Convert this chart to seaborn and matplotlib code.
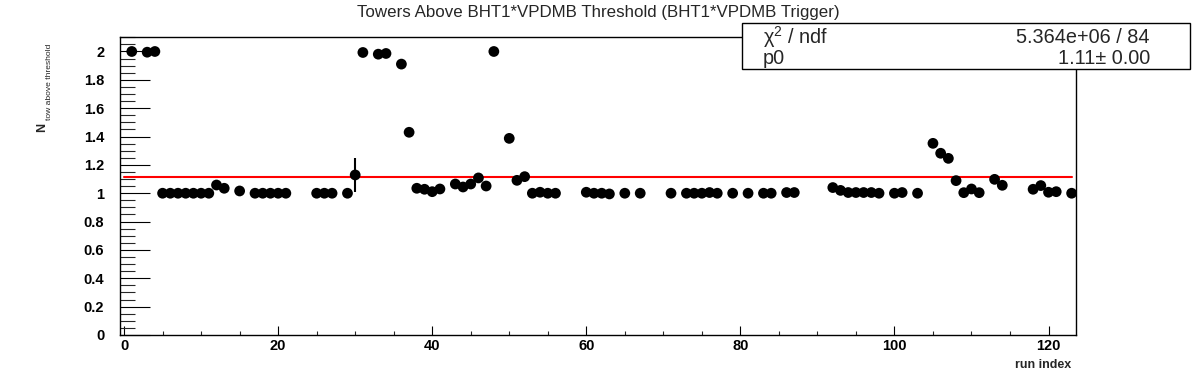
import matplotlib
matplotlib.use("Agg")
import matplotlib.pyplot as plt
import matplotlib.ticker as mticker
from matplotlib.patches import Rectangle
import numpy as np
import pandas as pd
import seaborn as sns

# ---------------- data ----------------
run_index = [1, 3, 4, 5, 6, 7, 8, 9, 10, 11, 12, 13, 15, 17, 18, 19, 20, 21,
             25, 26, 27, 29, 30, 31, 33, 34, 36, 37, 38, 39, 40, 41, 43, 44,
             45, 46, 47, 48, 50, 51, 52, 53, 54, 55, 56, 60, 61, 62, 63, 65,
             67, 71, 73, 74, 75, 76, 77, 79, 81, 83, 84, 86, 87, 92, 93, 94,
             95, 96, 97, 98, 100, 101, 103, 105, 106, 107, 108, 109, 110, 111,
             113, 114, 118, 119, 120, 121, 123]
n_tow = [2.0, 1.995, 2.0, 1.0, 1.0, 1.0, 1.0, 1.0, 1.0, 1.0, 1.058, 1.035,
         1.016, 1.0, 1.0, 1.0, 1.0, 1.0,
         1.0, 1.0, 1.0, 1.0, 1.129, 1.993, 1.981, 1.986, 1.911, 1.43, 1.035,
         1.028, 1.011, 1.030, 1.065, 1.044,
         1.065, 1.108, 1.051, 2.0, 1.387, 1.091, 1.117, 1.0, 1.007, 1.0, 1.0,
         1.007, 1.0, 1.0, 0.995, 1.0,
         1.0, 1.0, 1.0, 1.0, 1.0, 1.005, 1.0, 1.0, 1.0, 1.0, 1.0, 1.005, 1.005,
         1.04, 1.02, 1.005,
         1.005, 1.005, 1.005, 1.0, 1.0, 1.005, 1.0, 1.352, 1.282, 1.246,
         1.089, 1.004, 1.03, 1.004,
         1.098, 1.056, 1.028, 1.054, 1.007, 1.011, 1.0]
error_runs = [30]
error_sizes = [0.12]

fit_p0 = 1.113
fit_range = [0, 123]
stat_labels = ["\u03c7$^{2}$ / ndf", "p0"]
stat_values = ["5.364e+06 / 84", "1.11\u00b1 0.00"]

title = "Towers Above BHT1*VPDMB Threshold (BHT1*VPDMB Trigger)"
x_title = "run index"
x_ticks = [0, 20, 40, 60, 80, 100, 120]
y_ticks = [0, 0.2, 0.4, 0.6, 0.8, 1.0, 1.2, 1.4, 1.6, 1.8, 2.0]

# ---------------- style ----------------
sns.set_theme(style="ticks")
plt.rcParams["font.family"] = ["Liberation Sans", "DejaVu Sans"]
plt.rcParams["mathtext.fontset"] = "custom"
plt.rcParams["mathtext.rm"] = "Liberation Sans"
plt.rcParams["mathtext.it"] = "Liberation Sans"
plt.rcParams["mathtext.bf"] = "Liberation Sans:bold"
plt.rcParams["mathtext.default"] = "regular"

fig = plt.figure(figsize=(11.96, 3.72), dpi=100)
fig.patch.set_facecolor("white")
ax = fig.add_axes([0.1, 0.0995, 0.8, 0.8002])
ax.set_facecolor("white")

df = pd.DataFrame({"run": run_index, "n": n_tow})

# fit line
ax.plot(fit_range, [fit_p0, fit_p0], color="#ff0000", lw=1.5, zorder=2)

# error bars
err_y = [n_tow[run_index.index(r)] for r in error_runs]
ax.errorbar(error_runs, err_y, yerr=error_sizes, fmt="none", ecolor="black",
            elinewidth=1.5, capsize=0, zorder=3)

# points
sns.scatterplot(data=df, x="run", y="n", ax=ax, color="black", s=60,
                linewidth=0, edgecolor="none", zorder=4, legend=False)

ax.set_xlim(-0.58, 123.62)
ax.set_ylim(0, 2.1)
ax.set_xlabel("")
ax.set_ylabel("")

for s in ax.spines.values():
    s.set_color("black")
    s.set_linewidth(1.0)
    s.set_visible(True)

ax.set_xticks(x_ticks)
ax.xaxis.set_minor_locator(mticker.MultipleLocator(5))
ax.set_yticks(y_ticks)
ax.yaxis.set_minor_locator(mticker.MultipleLocator(0.05))
ax.yaxis.set_major_formatter(mticker.FuncFormatter(lambda v, p: f"{v:g}"))

ax.tick_params(axis="x", which="major", direction="in", length=6.5, width=0.8,
               pad=3, labelsize=10.5, colors="black", top=False)
ax.tick_params(axis="x", which="minor", direction="in", length=3.2, width=0.8,
               top=False)
ax.tick_params(axis="y", which="major", direction="in", length=21.5, width=0.8,
               pad=11, labelsize=10.5, colors="black", right=False)
ax.tick_params(axis="y", which="minor", direction="in", length=10.8, width=0.8,
               right=False)
for lab in ax.get_xticklabels() + ax.get_yticklabels():
    lab.set_fontweight("bold")

# titles
fig.text(0.5, 0.966, title, ha="center", va="center", fontsize=12.2)
fig.text(1071 / 1196, 1 - 365 / 372, x_title, ha="right", va="center",
         fontsize=9, fontweight="bold")
fig.text(42 / 1196, 1 - 127 / 372, "N", rotation=90, ha="center", va="center",
         fontsize=9, fontweight="bold")
fig.text(49.5 / 1196, 1 - 82 / 372, "tow above threshold", rotation=90,
         ha="center", va="center", fontsize=6.1)

# stats box
bx0, bx1 = 741.5 / 1196, 1190 / 1196
by0, by1 = 1 - 68.5 / 372, 1 - 22.5 / 372
fig.patches.append(Rectangle((bx0, by0), bx1 - bx0, by1 - by0,
                             transform=fig.transFigure, facecolor="white",
                             edgecolor="black", linewidth=1.0, zorder=10))
row_centers = [37.5, 58]
for yc_px, lab, val in zip(row_centers, stat_labels, stat_values):
    yc = 1 - yc_px / 372
    fig.text(763 / 1196, yc, lab, ha="left", va="center", fontsize=14.3,
             zorder=11)
    fig.text(1150 / 1196, yc, val, ha="right", va="center", fontsize=14.3,
             zorder=11)

fig.savefig("out.png", dpi=100)
